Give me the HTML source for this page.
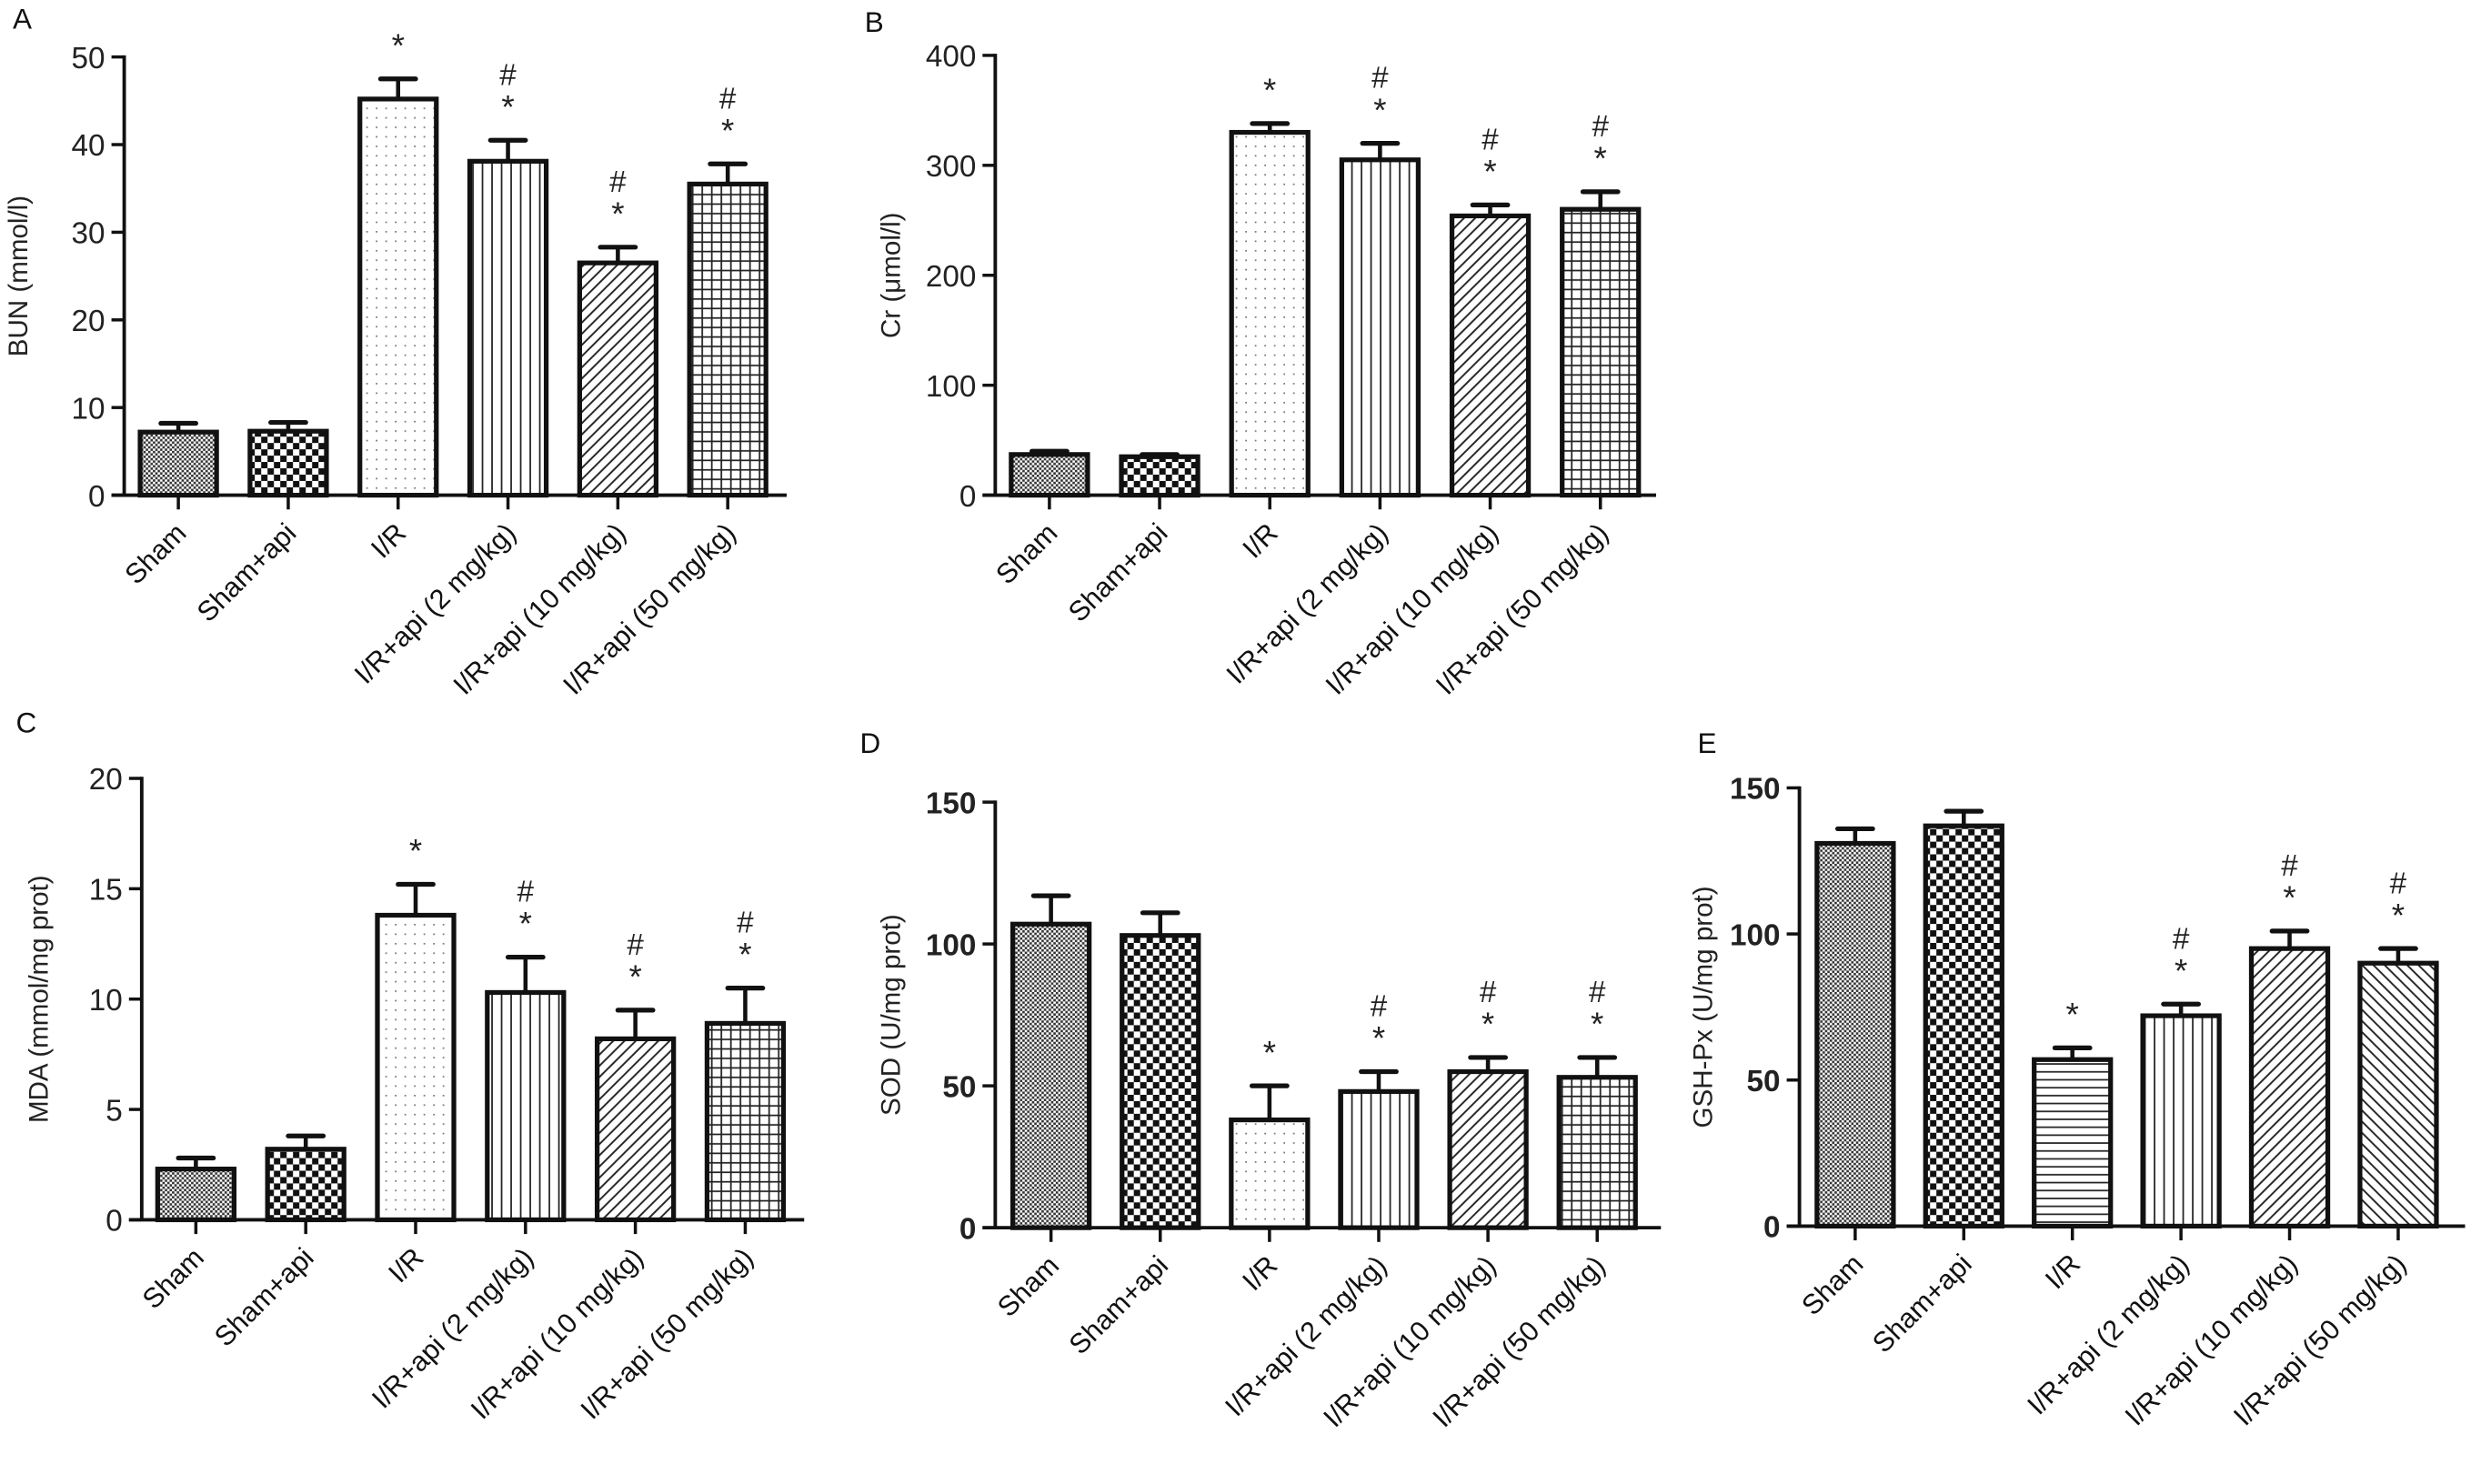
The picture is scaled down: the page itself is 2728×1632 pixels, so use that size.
<!DOCTYPE html>
<html><head><meta charset="utf-8"><style>
html,body{margin:0;padding:0;background:#fff;}
svg{display:block;font-family:"Liberation Sans",Arial,sans-serif;}
</style></head><body>
<svg id="fig" width="2728" height="1632" viewBox="0 0 1558 938" preserveAspectRatio="none" xmlns="http://www.w3.org/2000/svg">
<defs>
<pattern id="p-fine" patternUnits="userSpaceOnUse" width="3" height="3"><rect width="3" height="3" fill="#fff"/><rect width="1.5" height="1.5" fill="#333"/><rect x="1.5" y="1.5" width="1.5" height="1.5" fill="#333"/></pattern>
<pattern id="p-check" patternUnits="userSpaceOnUse" width="8" height="8"><rect width="8" height="8" fill="#fff"/><rect width="4" height="4" fill="#111"/><rect x="4" y="4" width="4" height="4" fill="#111"/></pattern>
<pattern id="p-dots" patternUnits="userSpaceOnUse" width="6" height="6"><rect width="6" height="6" fill="#fff"/><rect x="2" y="2" width="1" height="1" fill="#777"/></pattern>
<pattern id="p-vert" patternUnits="userSpaceOnUse" width="6" height="6"><rect width="6" height="6" fill="#fff"/><rect x="2.5" width="1" height="6" fill="#222"/></pattern>
<pattern id="p-horiz" patternUnits="userSpaceOnUse" width="6" height="5"><rect width="6" height="5" fill="#fff"/><rect y="2" width="6" height="1" fill="#222"/></pattern>
<pattern id="p-diag" patternUnits="userSpaceOnUse" width="5" height="5" patternTransform="rotate(45)"><rect width="5" height="5" fill="#fff"/><rect x="2" width="1.1" height="5" fill="#222"/></pattern>
<pattern id="p-diag2" patternUnits="userSpaceOnUse" width="5" height="5" patternTransform="rotate(-45)"><rect width="5" height="5" fill="#fff"/><rect x="2" width="1.1" height="5" fill="#222"/></pattern>
<pattern id="p-grid" patternUnits="userSpaceOnUse" width="6" height="6"><rect width="6" height="6" fill="#fff"/><rect x="2.5" width="1" height="6" fill="#222"/><rect y="2.5" width="6" height="1" fill="#222"/></pattern>
</defs>
</svg>
<script>
const categories = ["Sham","Sham+api","I/R","I/R+api (2 mg/kg)","I/R+api (10 mg/kg)","I/R+api (50 mg/kg)"];
const bunValues = [7.2, 7.3, 45.2, 38.1, 26.5, 35.5];
const bunErrors = [1.0, 1.0, 2.3, 2.4, 1.8, 2.3];
const crValues = [37, 35, 330, 305, 254, 260];
const crErrors = [3, 2, 8, 15, 10, 16];
const mdaValues = [2.3, 3.2, 13.8, 10.3, 8.2, 8.9];
const mdaErrors = [0.5, 0.6, 1.4, 1.6, 1.3, 1.6];
const sodValues = [107, 103, 38, 48, 55, 53];
const sodErrors = [10, 8, 12, 7, 5, 7];
const gshValues = [131, 137, 57, 72, 95, 90];
const gshErrors = [5, 5, 4, 4, 6, 5];
const bunTicks = [0,10,20,30,40,50];
const crTicks = [0,100,200,300,400];
const mdaTicks = [0,5,10,15,20];
const sodTicks = [0,50,100,150];
const gshTicks = [0,50,100,150];
const marksStar = [false,false,true,true,true,true];
const marksHash = [false,false,false,true,true,true];

const NS="http://www.w3.org/2000/svg";
const svg=document.getElementById('fig');
function mk(tag,attrs,parent){const e=document.createElementNS(NS,tag);for(const k in attrs)e.setAttribute(k,attrs[k]);(parent||svg).appendChild(e);return e;}

const panels=[
 {id:'a',letter:'A',lx:8,ly:18,ax:78,top:36,bot:313,right:494,first:112,step:69,max:50,ticks:bunTicks,vals:bunValues,errs:bunErrors,title:'BUN (mmol/l)',tx:17,bold:false,
  pats:['p-fine','p-check','p-dots','p-vert','p-diag','p-grid']},
 {id:'b',letter:'B',lx:543,ly:20,ax:625,top:35,bot:313,right:1040,first:659,step:69.2,max:400,ticks:crTicks,vals:crValues,errs:crErrors,title:'Cr (\u03bcmol/l)',tx:565,bold:false,
  pats:['p-fine','p-check','p-dots','p-vert','p-diag','p-grid']},
 {id:'c',letter:'C',lx:10,ly:463,ax:89,top:492,bot:771,right:505,first:123,step:69,max:20,ticks:mdaTicks,vals:mdaValues,errs:mdaErrors,title:'MDA (mmol/mg prot)',tx:30,bold:false,
  pats:['p-fine','p-check','p-dots','p-vert','p-diag','p-grid']},
 {id:'d',letter:'D',lx:540,ly:476,ax:625,top:507,bot:776,right:1043,first:660,step:68.6,max:150,ticks:sodTicks,vals:sodValues,errs:sodErrors,title:'SOD (U/mg prot)',tx:565,bold:true,
  pats:['p-fine','p-check','p-dots','p-vert','p-diag','p-grid']},
 {id:'e',letter:'E',lx:1066,ly:476,ax:1130,top:498,bot:775,right:1548,first:1165,step:68.2,max:150,ticks:gshTicks,vals:gshValues,errs:gshErrors,title:'GSH-Px (U/mg prot)',tx:1075,bold:true,
  pats:['p-fine','p-check','p-horiz','p-vert','p-diag','p-diag2']}
];

panels.forEach(p=>{
  const g=mk('g',{});
  
  
  const y=v=>p.bot-(v/p.max)*(p.bot-p.top);
  const x=i=>p.first+i*p.step;
  const L=mk('text',{x:p.lx,y:p.ly,'font-size':18,fill:'#111'},g);L.textContent=p.letter;
  
  
  const bw=48;
  p.vals.forEach((v,i)=>{
    const cx=x(i), top=y(v), et=y(v+p.errs[i]);
    const eb=mk('line',{x1:cx,x2:cx,y1:top,y2:et,stroke:'#111','stroke-width':2.6},g);
    
    
    mk('line',{x1:cx-11,x2:cx+11,y1:et,y2:et,stroke:'#111','stroke-width':3,'stroke-linecap':'round'},g);
    const r=mk('rect',{x:cx-bw/2,y:top,width:bw,height:p.bot-top,fill:'url(#'+p.pats[i]+')',stroke:'#111','stroke-width':3},g);
    
    
    if(marksStar[i]){
      const s=mk('text',{x:cx,y:et-14,'font-size':21,'text-anchor':'middle',fill:'#222'},g);s.textContent='*';
      
      
    }
    if(marksHash[i]){
      const h=mk('text',{x:cx,y:et-35,'font-size':19,'text-anchor':'middle',fill:'#222'},g);h.textContent='#';
      
      
    }
    mk('line',{x1:cx,x2:cx,y1:p.bot,y2:p.bot+9,stroke:'#111','stroke-width':2},g);
    const t=mk('text',{x:cx+6,y:p.bot+25,'font-size':17.5,'text-anchor':'end',fill:'#111',transform:'rotate(-45 '+(cx+6)+' '+(p.bot+25)+')'},g);
    t.textContent=categories[i];
    
    
  });
  const ya=mk('line',{x1:p.ax,x2:p.ax,y1:p.top-1,y2:p.bot,stroke:'#111','stroke-width':2.2},g);
  
  
  const xa=mk('line',{x1:p.ax-8,x2:p.right,y1:p.bot,y2:p.bot,stroke:'#111','stroke-width':2.2},g);
  
  
  p.ticks.forEach(tv=>{
    const ty=y(tv);
    mk('line',{x1:p.ax-8,x2:p.ax,y1:ty,y2:ty,stroke:'#111','stroke-width':2},g);
    const tl=mk('text',{x:p.ax-12,y:ty+7,'font-size':19,'text-anchor':'end',fill:'#222','font-weight':p.bold?'bold':'normal'},g);
    tl.textContent=tv;
    
    
  });
  const my=(p.top+p.bot)/2;
  const yt=mk('text',{x:p.tx,y:my,'font-size':17,'text-anchor':'middle',fill:'#222',transform:'rotate(-90 '+p.tx+' '+my+')'},g);
  yt.textContent=p.title;
  
  
});
</script>
</body></html>
